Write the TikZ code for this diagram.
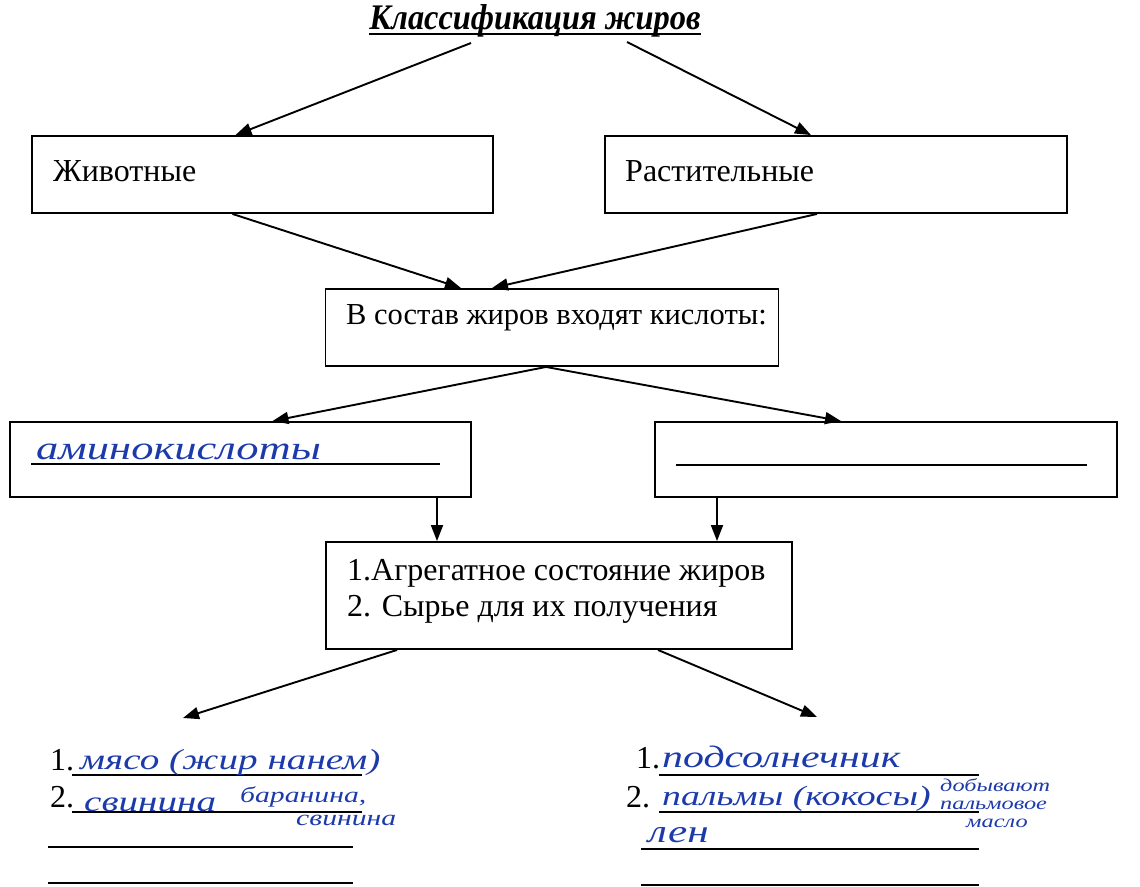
\documentclass[tikz,border=0pt]{standalone}
\usepackage{fontspec}
\setmainfont{Liberation Serif}
\usetikzlibrary{arrows.meta}
\definecolor{inkblue}{RGB}{28,58,170}
\newcommand{\wide}[1]{\scalebox{1.35}[1]{#1}}
\tikzset{
  box/.style={draw, line width=1.9pt, rectangle, inner sep=0pt},
  lbl/.style={font=\fontsize{32}{36}\selectfont, inner sep=0pt, anchor=west, align=left},
  arr/.style={line width=1.9pt, -{Triangle[length=16pt,width=12pt]}},
  ink/.style={text=inkblue, font=\fontsize{#1}{#1}\selectfont\itshape, inner sep=0pt, anchor=base west},
  num/.style={font=\fontsize{32}{32}\selectfont, inner sep=0pt, anchor=base west},
  blank/.style={line width=1.5pt},
}

\begin{document}
\begin{tikzpicture}[x=1pt,y=-1pt]
    \useasboundingbox (0,0) rectangle (1140,886);

        %%title
        \node[inner sep=0pt, anchor=base] (title) at (535,29)
            {\scalebox{0.9}[1]{\fontsize{36}{36}\selectfont\bfseries\itshape Классификация жиров}};
        \draw[line width=2.4pt] ([yshift=-5pt]title.base west) to ([yshift=-5pt]title.base east);

        %%first row
        \node[box, minimum width=461pt, minimum height=77pt] (anim) at (262.5,174.5) {};
            \node[lbl] (animtext) at (53,171) {Животные};
        \node[box, minimum width=462pt, minimum height=77pt] (veg) at (836,174.5) {};
            \node[lbl] (vegtext) at (625,171) {Растительные};

        \draw[arr] ([xshift=-64pt,yshift=-14pt]title.base) to ([xshift=-27pt]anim.north);
        \draw[arr] ([xshift=92pt,yshift=-13pt]title.base) to ([xshift=-25pt]veg.north);

        %%acids
        \node[box, minimum width=453pt, minimum height=77pt] (sost) at (552,327.5) {};
            \node[lbl, font=\fontsize{30.5}{34}\selectfont] (sosttext) at (346,318) {В состав жиров входят кислоты:};

        \draw[arr] ([xshift=-30pt]anim.south) to ([xshift=-91pt]sost.north);
        \draw[arr] ([xshift=-19pt]veg.south) to ([xshift=-60pt]sost.north);

        \node[box, minimum width=461pt, minimum height=75pt] (acidL) at (240.5,459.5) {};
        \node[box, minimum width=462pt, minimum height=75pt] (acidR) at (886,459.5) {};

        \draw[arr] ([xshift=-6pt]sost.south) to ([xshift=32pt]acidL.north);
        \draw[arr] ([xshift=-6pt]sost.south) to ([xshift=-45pt]acidR.north);

        \node[ink=33] (amino) at (36,459) {\wide{аминокислоты}};
            \draw[blank] (31,464) to (440,464);
            \draw[blank] (676,465) to (1087,465);

        %%state and source
        \node[box, minimum width=466pt, minimum height=107pt] (agr) at (559,595.5) {};
            \node[lbl] (agrtext) at (347,591) {1.Агрегатное состояние жиров\\2. Сырье для их получения};

        \draw[arr] ([xshift=-122pt]agr.north |- acidL.south) to ([xshift=-122pt]agr.north);
        \draw[arr] ([xshift=158pt]agr.north |- acidR.south) to ([xshift=158pt]agr.north);

        \coordinate (animlist) at (183,718);
        \coordinate (veglist) at (817,717);
        \draw[arr] ([xshift=-162pt]agr.south) to (animlist);
        \draw[arr] ([xshift=99pt]agr.south) to (veglist);

        %%animal list
        \node[num] (a1) at (50,770) {1.};
            \draw[blank] (72,775) to (362,775);
        \node[num] (a2) at (50,807) {2.};
            \draw[blank] (72,812) to (362,812);
            \draw[blank] (48,847) to (353,847);
            \draw[blank] (48,883) to (353,883);
        \node[ink=29] (meat) at (80,769) {\wide{мясо (жир нанем)}};
        \node[ink=29] (pork) at (84,811) {\wide{свинина}};
        \node[ink=22] (mutton) at (240,802) {\wide{баранина,}};
        \node[ink=22] (pork2) at (296,825) {\wide{свинина}};

        %%plant list
        \node[num] (v1) at (636,768) {1.};
            \draw[blank] (659,775) to (979,775);
        \node[num] (v2) at (626,807) {2.};
            \draw[blank] (659,812) to (979,812);
            \draw[blank] (641,849) to (979,849);
            \draw[blank] (641,885) to (979,885);
        \node[ink=31] (sunfl) at (662,767) {\wide{подсолнечник}};
        \node[ink=28] (palm) at (662,805) {\wide{пальмы (кокосы)}};
        \node[ink=18] (get1) at (940,791) {\wide{добывают}};
        \node[ink=18] (get2) at (940,809) {\wide{пальмовое}};
        \node[ink=18] (get3) at (966,827) {\wide{масло}};
        \node[ink=32] (flax) at (648,842) {\wide{лен}};

\end{tikzpicture}
\end{document}
